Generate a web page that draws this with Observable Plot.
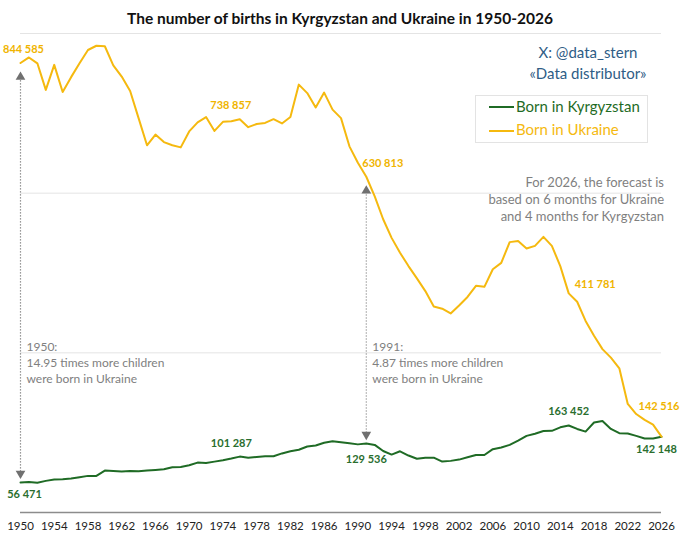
<!DOCTYPE html>
<html>
<head>
<meta charset="utf-8">
<script src="https://cdn.jsdelivr.net/npm/d3@7"></script>
<script src="https://cdn.jsdelivr.net/npm/@observablehq/plot@0.6"></script>
<style>
  html, body { margin: 0; padding: 0; background: #fff; }
  #wrap { position: relative; width: 680px; height: 537px; font-family: Lato, "Open Sans", sans-serif; overflow: hidden; }
  #title { height: 33px; line-height: 36px; text-align: center; font-weight: bold; font-size: 15.5px; color: #111; }
  .ov { position: absolute; }
  #brand { left: 520px; width: 136px; top: 42px; text-align: center; font-size: 15px; line-height: 20.6px; color: #2f5d86; }
  #legend { left: 475px; top: 95px; width: 171px; height: 46px; border: 1px solid #e3e3e3; }
  .li { position: absolute; left: 13px; font-size: 15px; line-height: 20px; white-space: nowrap; }
  .li span.sw { display: inline-block; width: 25px; height: 2px; vertical-align: middle; margin-right: 2px; position: relative; top: -1px; }
  #note { right: 16px; top: 174px; text-align: right; font-size: 13px; line-height: 17px; color: #7f7f7f; }
</style>
</head>
<body>
<div id="wrap">
  <div id="title">The number of births in Kyrgyzstan and Ukraine in 1950-2026</div>
  <div id="chart"></div>
  <div class="ov" id="brand">X: @data_stern<br>«Data distributor»</div>
  <div class="ov" id="legend"></div>
  <div class="ov" id="note">For 2026, the forecast is<br>based on 6 months for Ukraine<br>and 4 months for Kyrgyzstan</div>
</div>
<script>
const years = [1950,1951,1952,1953,1954,1955,1956,1957,1958,1959,
  1960,1961,1962,1963,1964,1965,1966,1967,1968,1969,
  1970,1971,1972,1973,1974,1975,1976,1977,1978,1979,
  1980,1981,1982,1983,1984,1985,1986,1987,1988,1989,
  1990,1991,1992,1993,1994,1995,1996,1997,1998,1999,
  2000,2001,2002,2003,2004,2005,2006,2007,2008,2009,
  2010,2011,2012,2013,2014,2015,2016,2017,2018,2019,
  2020,2021,2022,2023,2024,2025,2026];

const ukraine = [844585,855000,844000,794000,841000,790000,818000,844000,869000,877000,
  876000,840000,819000,792000,741000,690000,710000,696000,690000,686000,
  716000,733000,743000,717000,734000,735000,738857,724000,730000,732000,
  739000,731000,743000,804000,788000,761000,789000,757000,741000,688000,
  657000,630813,594000,551000,516000,488000,463000,440000,416000,387000,
  383000,374000,389000,405000,426000,424000,457000,469000,508000,510000,
  496000,501000,518000,501000,463000,411781,396000,360000,332000,307000,
  291000,271000,204000,185000,174000,165000,142516];

const kyrgyzstan = [56471,57500,56000,59400,61900,62500,63800,66200,68800,68800,
  78800,78000,76900,78000,77500,78800,80000,81200,85000,85600,
  88700,93800,93200,95600,98000,101287,105000,103000,104400,105600,
  105600,111000,115000,118000,124000,126000,131000,134000,132000,130000,
  128000,129536,127000,115600,108800,115000,107000,101000,103000,103000,
  95600,97000,99400,103700,108000,108000,119000,122000,127000,135000,
  144000,148000,153000,153500,160000,163452,157000,152000,169000,172000,
  157000,149000,148500,144000,139000,139000,142148];

const tickYears = [1950,1954,1958,1962,1966,1970,1974,1978,1982,1986,1990,1994,1998,2002,2006,2010,2014,2018,2022,2026];
const gridValues = [300000, 600000, 900000];

const seriesNames = ["Born in Kyrgyzstan", "Born in Ukraine"];
const seriesColors = ["#1f6b25", "#f5b90f"];
const labelColors = ["#2a6e2e", "#f0b400"];

// Labelled points
const ukrLabelYears = [1950, 1976, 1991, 2015, 2026];
const kgzLabelYears = [1950, 1975, 1991, 2015, 2026];
const ukrLabelOffsets = [[3,-14,"middle"],[-9,-14,"middle"],[-4,-13,"start"],[6,-9,"start"],[-23,-30,"start"]];
const kgzLabelOffsets = [[4,12,"middle"],[0,-15,"middle"],[0,16,"middle"],[0,-14,"middle"],[-5,13,"middle"]];

// Comparison arrows
const arrowYears = [1950, 1991];
const arrowTexts = ["1950:\n14.95 times more children\nwere born in Ukraine",
                    "1991:\n4.87 times more children\nwere born in Ukraine"];

const fmt = v => d3.format(",")(v).replace(/,/g, " ");
const idx = y => years.indexOf(y);

const ukrData = years.map((y, i) => ({year: y, value: ukraine[i]}));
const kgzData = years.map((y, i) => ({year: y, value: kyrgyzstan[i]}));

const ukrLabels = ukrLabelYears.map((y, i) => ({year: y, value: ukraine[idx(y)], dx: ukrLabelOffsets[i][0], dy: ukrLabelOffsets[i][1], anchor: ukrLabelOffsets[i][2]}));
const kgzLabels = kgzLabelYears.map((y, i) => ({year: y, value: kyrgyzstan[idx(y)], dx: kgzLabelOffsets[i][0], dy: kgzLabelOffsets[i][1], anchor: kgzLabelOffsets[i][2]}));

const arrows = arrowYears.map((y, i) => ({year: y, top: ukraine[idx(y)], bottom: kyrgyzstan[idx(y)], text: arrowTexts[i]}));

function labelMarks(data, color) {
  const out = [];
  for (const d of data) {
    out.push(Plot.text([d], {x: "year", y: "value", text: d => fmt(d.value), dx: d.dx, dy: d.dy,
      textAnchor: d.anchor, fill: color, fontWeight: "bold", fontSize: 11}));
  }
  return out;
}

const chart = Plot.plot({
  width: 680,
  height: 504,
  marginLeft: 20,
  marginRight: 19,
  marginTop: 0,
  marginBottom: 25,
  style: {fontFamily: "Lato, 'Open Sans', sans-serif", background: "transparent", overflow: "visible"},
  x: {domain: [1950, 2026], label: null},
  y: {domain: [0, 900000], axis: null},
  marks: [
    Plot.ruleY(gridValues, {stroke: "#e4e4e4", strokeWidth: 1}),
    Plot.ruleY([0], {stroke: "#8c8c8c", strokeWidth: 1.5}),
    Plot.axisX({ticks: tickYears, tickFormat: d => String(d), tickSize: 0, tickPadding: 9, fontSize: 11.5, fill: "#222", label: null}),
    // dotted comparison arrows (line stops just inside the two arrowheads)
    Plot.ruleX(arrows, {x: "year", y1: d => d.bottom + 14000, y2: d => d.top - 22000, stroke: "#7a7a7a", strokeWidth: 1.2, strokeDasharray: "1.2,1.8"}),
    Plot.dot(arrows, {x: "year", y: "top", symbol: "triangle", r: 3.6, fill: "#707070", stroke: "none", dy: 14}),
    Plot.dot(arrows, {x: "year", y: "bottom", symbol: "triangle", r: 3.6, fill: "#707070", stroke: "none", rotate: 180, dy: -9}),
    Plot.text(arrows, {x: "year", y: 283000, text: "text", dx: 6, textAnchor: "start", lineAnchor: "middle", lineHeight: 1.32, fontSize: 12, fill: "#808080"}),
    // series
    Plot.line(kgzData, {x: "year", y: "value", stroke: seriesColors[0], strokeWidth: 2}),
    Plot.line(ukrData, {x: "year", y: "value", stroke: seriesColors[1], strokeWidth: 2}),
    ...labelMarks(ukrLabels, labelColors[1]),
    ...labelMarks(kgzLabels, labelColors[0])
  ]
});
document.getElementById("chart").appendChild(chart);

// Legend built from the series arrays
const legend = document.getElementById("legend");
seriesNames.forEach((name, i) => {
  const div = document.createElement("div");
  div.className = "li";
  div.style.top = (i === 0 ? 0 : 23.3) + "px";
  div.style.color = seriesColors[i];
  const sw = document.createElement("span");
  sw.className = "sw";
  sw.style.background = seriesColors[i];
  div.appendChild(sw);
  div.appendChild(document.createTextNode(name));
  legend.appendChild(div);
});
</script>
</body>
</html>
